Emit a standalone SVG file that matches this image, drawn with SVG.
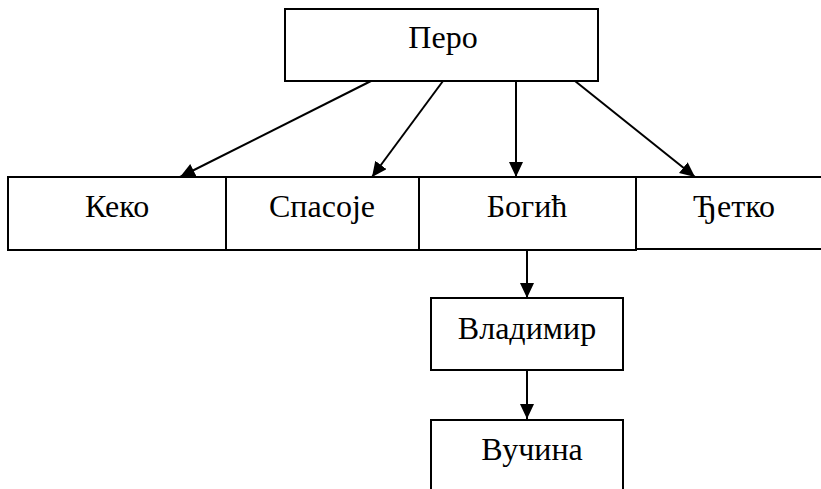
<svg xmlns="http://www.w3.org/2000/svg" width="821" height="489" viewBox="0 0 821 489">
<style>
.box{fill:#fff;stroke:#000;stroke-width:2}
.lbl{font-family:'Liberation Serif','DejaVu Serif',serif;font-size:32px;fill:#000;text-anchor:middle}
.edge{stroke:#000;stroke-width:2;fill:none;marker-end:url(#ah)}
</style>
<defs>
<marker id="ah" markerUnits="userSpaceOnUse" markerWidth="16" markerHeight="14" refX="15" refY="7" orient="auto">
<path d="M0,0 L15,7 L0,14 Z" fill="#000"/>
</marker>
</defs>
<rect width="821" height="489" fill="#fff"/>
<g id="connectors">
<line class="edge" x1="371" y1="81" x2="180" y2="177"/>
<line class="edge" x1="443" y1="81" x2="372" y2="177"/>
<line class="edge" x1="516" y1="81" x2="516" y2="177"/>
<line class="edge" x1="575" y1="81" x2="695" y2="177"/>
<line class="edge" x1="527" y1="250" x2="527" y2="298"/>
<line class="edge" x1="527" y1="370" x2="527" y2="419"/>
</g>
<g id="pero"><rect class="box" x="285" y="9" width="313" height="72"/><text class="lbl" x="443" y="48">Перо</text></g>
<g id="keko"><rect class="box" x="8" y="177" width="218" height="73"/><text class="lbl" x="117" y="217">Кеко</text></g>
<g id="spasoje"><rect class="box" x="226" y="177" width="193" height="73"/><text class="lbl" x="322" y="217">Спасоје</text></g>
<g id="bogic"><rect class="box" x="419" y="177" width="217" height="73"/><text class="lbl" x="527" y="217">Богић</text></g>
<g id="cetko"><path class="box" d="M636,177 H822 M636,177 V250 M636,249 H822"/><text class="lbl" x="734" y="217">Ђетко</text></g>
<g id="vladimir"><rect class="box" x="431" y="298" width="192" height="72"/><text class="lbl" x="527" y="339">Владимир</text></g>
<g id="vucina"><path class="box" d="M431,490 V420 H623 V490" fill="none"/><text class="lbl" x="532" y="460">Вучина</text></g>
</svg>
